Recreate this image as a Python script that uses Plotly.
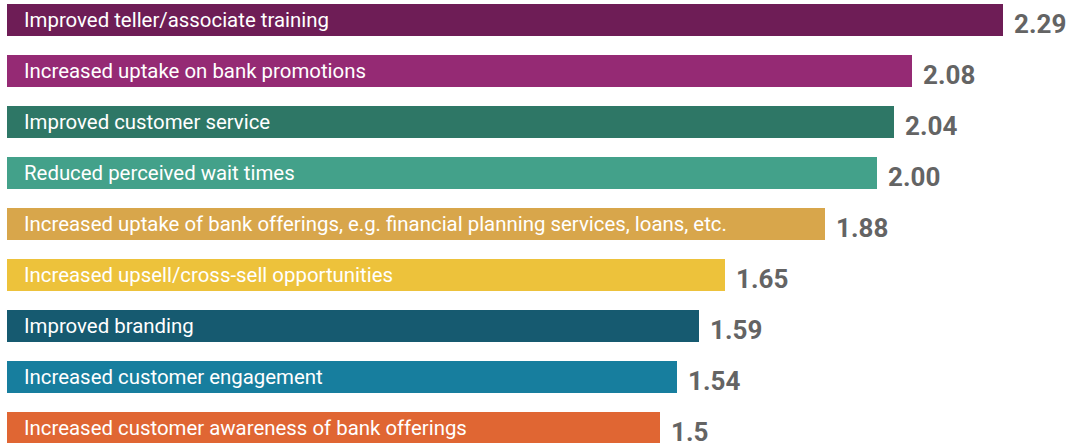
import plotly.graph_objects as go

labels = [
    "Improved teller/associate training",
    "Increased uptake on bank promotions",
    "Improved customer service",
    "Reduced perceived wait times",
    "Increased uptake of bank offerings, e.g. financial planning services, loans, etc.",
    "Increased upsell/cross-sell opportunities",
    "Improved branding",
    "Increased customer engagement",
    "Increased customer awareness of bank offerings",
]
values = [2.29, 2.08, 2.04, 2.00, 1.88, 1.65, 1.59, 1.54, 1.5]
value_text = ["2.29", "2.08", "2.04", "2.00", "1.88", "1.65", "1.59", "1.54", "1.5"]
colors = ["#6E1D56", "#952A74", "#2E7766", "#43A18A", "#D8A64B",
          "#EDC23B", "#165A70", "#177E9E", "#E06633"]

ypos = list(range(len(labels)))

fig = go.Figure(go.Bar(
    x=values, y=ypos, orientation="h",
    marker=dict(color=colors, line=dict(width=0)),
    width=0.61, hoverinfo="skip",
))

label_font = dict(family="Roboto, Liberation Sans, sans-serif", size=20.4, color="white")
value_font = dict(family="Roboto, Liberation Sans, sans-serif", size=26, color="#646464", weight="bold")

annotations = []
for i, (lab, v, vt) in enumerate(zip(labels, values, value_text)):
    annotations.append(dict(x=0, y=i, xref="x", yref="y", text=lab, showarrow=False,
                            xanchor="left", yanchor="middle", xshift=15, yshift=0,
                            font=label_font))
    annotations.append(dict(x=v, y=i, xref="x", yref="y", text="<b>%s</b>" % vt, showarrow=False,
                            xanchor="left", yanchor="middle", xshift=9, yshift=-4,
                            font=value_font))

fig.update_layout(
    width=1073, height=443,
    margin=dict(l=7, r=0, t=0, b=0),
    paper_bgcolor="white", plot_bgcolor="white",
    showlegend=False,
    xaxis=dict(range=[0, 1066 / 435.0], visible=False, fixedrange=True),
    yaxis=dict(range=[443 / 51.0 - 20 / 51.0, -20 / 51.0], visible=False, fixedrange=True),
    annotations=annotations,
    bargap=0,
)

fig.write_html("out.html", config={"displayModeBar": False},
               post_script="document.body.style.margin='0px';document.body.style.overflow='hidden';")
